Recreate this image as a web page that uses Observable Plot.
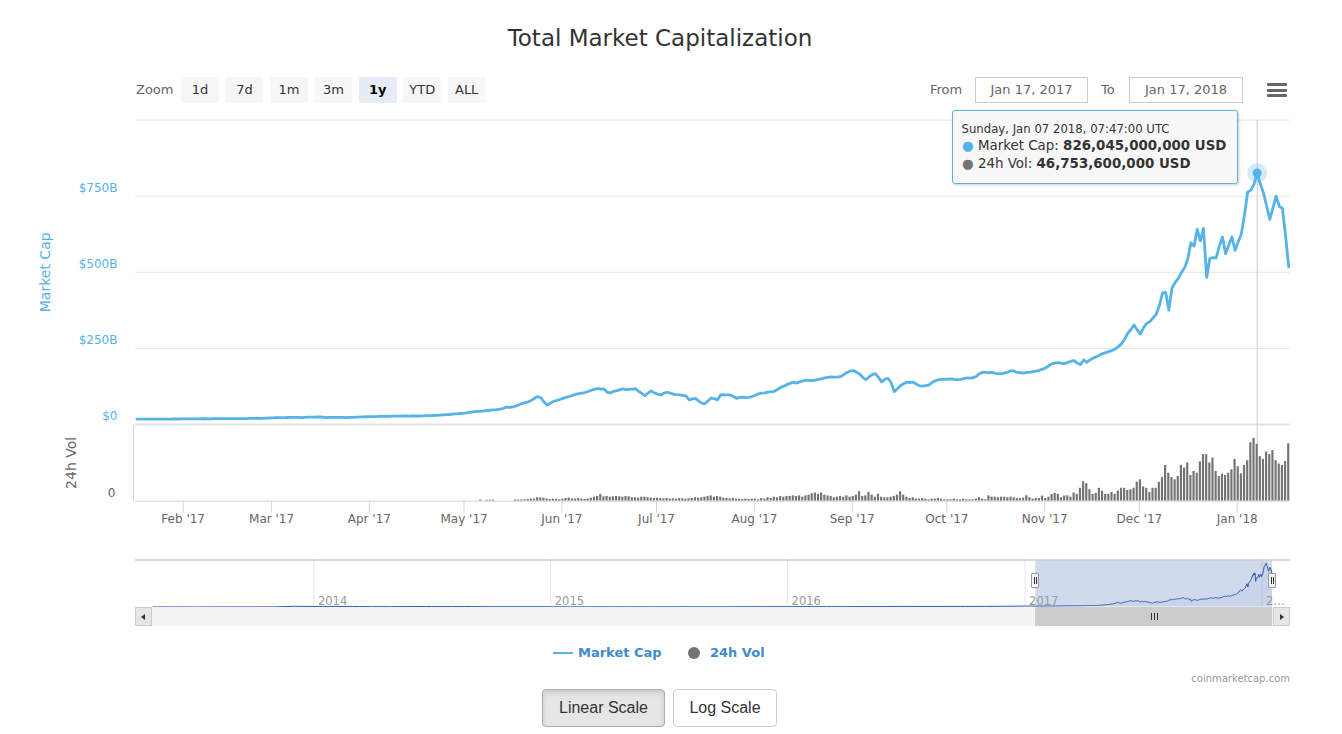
<!DOCTYPE html>
<html>
<head>
<meta charset="utf-8">
<script src="https://cdn.jsdelivr.net/npm/d3@7"></script>
<script src="https://cdn.jsdelivr.net/npm/@observablehq/plot@0.6"></script>
<style>
html,body{margin:0;padding:0;background:#fff;}
#root{position:relative;width:1342px;height:734px;overflow:hidden;font-family:"DejaVu Sans",sans-serif;color:#333;}
#root div{box-sizing:border-box;}
.a{position:absolute;white-space:nowrap;}
.rbtn{position:absolute;top:77px;width:38px;height:26px;background:#f7f7f7;border-radius:2px;font-size:13px;line-height:26px;text-align:center;color:#333;}
.inp{position:absolute;top:77px;height:26px;border:1px solid #cccccc;font-size:13px;line-height:24px;text-align:center;color:#666;background:#fff;}
</style>
</head>
<body>
<div id="root"></div>
<script>
// ---------------- DATA ($ billions) ----------------
// Daily total market cap, points at 07:47 UTC, Jan 17 2017 .. Jan 17 2018
const mcJan17 = [17.6,17.6,17.5,17.4,17.6,17.8,17.7,17.6,17.8,17.9,17.8,17.9,18.0,18.1,18.2];
const mcFeb17 = [18.3,18.5,18.6,18.4,18.5,18.7,18.9,19.2,18.6,18.9,19.1,19.2,19.0,19.0,19.1,19.3,19.4,19.2,19.3,19.4,19.6,19.8,20.2,20.6,20.4,20.5,20.9,21.3];
const mcMar17 = [21.6,22.1,22.6,22.9,22.8,23.0,23.1,23.4,23.2,22.9,23.6,23.9,24.2,24.4,24.6,24.8,24.1,22.6,23.2,23.4,23.6,23.4,23.5,22.9,23.4,23.6,23.9,24.5,25.0,25.1,25.5];
const mcApr17 = [25.7,25.9,26.1,26.4,26.8,27.2,27.0,27.3,27.6,27.5,27.8,28.0,27.7,27.9,28.1,28.0,28.3,28.6,28.9,29.3,29.6,30.1,30.8,31.6,32.2,32.8,33.8,35.0,35.4,36.8];
const mcMay17 = [37.6,38.8,40.5,42.0,42.8,43.5,44.6,46.0,47.5,48.2,49.0,50.5,52.5,57.0,56.0,57.5,60.5,64.5,69.0,72.0,74.5,79.0,86.0,92.0,88.0,74.0,64.0,70.0,76.0,78.5,82.0];
const mcJun17 = [86.0,89.0,92.0,95.5,99.0,101.5,103.0,105.0,108.5,112.5,115.5,117.5,116.0,117.0,106.0,104.0,108.5,111.0,114.0,117.0,114.5,115.5,116.5,117.5,109.0,102.0,95.0,103.5,110.0,104.0];
const mcJul17 = [100,97,103,106,103,100,98,97,96,94,81,84,86,77,70,68,78,87,85,81,97,98,97.5,97,92,86,89,90,88,89,92];
const mcAug17 = [96,101,103,104,106,107.5,109,115,122,126,131,135,139,136,140,143,146,145,144,146,148,150,153,155,156,155.5,156,157,164,171,175];
const mcSep17 = [177,172,166,155,147,156,164,167,155,140,148,152,138,108,117,128,134,139,138,139,133,127,126,128,130,138,144,147,148,148];
const mcOct17 = [149,150,148,147,148,151,153,152,154,158,167,172,171,170,171,168,167,166,170,172,177,175,171,170,169,171,172,174,175,178,182];
const mcNov17 = [186,193,200,202,203,201,200,204,208,210,201,197,212,204,212,218,222,228,233,236,240,243,248,256,265,280,300,312,327,310];
const mcDec17 = [297,318,332,338,350,362,390,432,434,376,448,466,480,499,515,543,597,586,641,603,644,483,546,548,547,585,616,561,590,616,572];
const mcJan18 = [600,627,690,764,770,790,826.045,790,761,718,674,712,750,717,710,620,518];

// Daily 24h volume, May 1 2017 .. Jan 17 2018
const volMay17 = [0,0,0,0,0,1.0,0,0.8,0.8,0.8,0,0,0,0,0,0,0.9,0.9,1.0,1.1,1.4,1.8,1.7,2.8,2.8,2.5,1.9,1.4,1.7,1.6,1.2];
const volJun17 = [1.7,2.2,2.5,1.9,1.7,2.2,1.7,1.4,1.9,2.5,3.3,3.9,5.6,3.6,3.9,3.3,3.6,3.9,3.6,3.3,3.9,3.6,2.8,2.8,2.5,3.3,3.3,2.8,2.5,2.2];
const volJul17 = [2.5,2.2,1.9,2.2,1.7,1.9,1.7,2.2,1.9,1.7,1.9,2.2,2.8,2.5,2.8,3.3,3.9,4.4,3.3,3.9,3.3,2.5,2.2,1.9,2.2,1.7,1.7,1.4,1.7,1.4,1.7];
const volAug17 = [1.7,1.1,2.2,1.7,2.8,2.2,3.3,2.8,3.9,3.3,3.9,3.9,4.4,3.9,4.4,3.3,4.4,5.0,6.1,6.7,5.6,6.7,5.0,4.4,3.9,2.8,3.3,3.9,3.3,4.4,3.3];
const volSep17 = [3.9,5.0,7.8,3.9,4.4,7.2,5.0,3.3,5.6,3.3,2.8,2.8,3.3,3.9,5.0,7.8,5.0,3.3,2.2,2.8,1.7,1.7,2.2,1.7,1.1,1.7,1.7,2.2,1.7,1.1];
const volOct17 = [1.1,1.1,1.7,1.1,1.1,1.7,1.1,1.1,1.1,1.7,2.8,1.7,1.1,4.4,3.3,3.3,2.8,3.3,3.3,2.8,3.3,2.8,2.2,2.2,2.5,4.5,2.8,1.7,2.2,2.2,4.2];
const volNov17 = [2.2,3.3,5.6,6.4,5.6,2.8,4.2,4.4,3.3,6.7,5.6,10.6,16.0,14.4,9.4,5.6,6.4,10.6,8.3,5.6,5.6,7.2,5.6,8.3,10.6,10.6,8.9,9.4,10.6,15.6];
const volDec17 = [17.5,11.7,10.6,7.2,10.6,10.6,15.6,19.4,29.4,23.0,19.4,17.5,20.3,29.4,27.2,31.4,21.1,24.4,23.0,32.2,38.3,38.3,31.4,35.5,24.4,20.3,22.2,21.1,23.0,25.8,34.4];
const volJan18 = [28.3,22.5,29.4,33.3,48.0,51.6,46.7536,36.6,34.4,40.5,38.3,41.6,33.3,30.5,29.4,32.5,47.2];

// Navigator history before the daily range: Apr 28 2013, then month starts May 2013 .. Jan 2017
const navFirstValue = 1.5;
const navEarly = [1.5,1.4,1.1,1.2,1.6,1.6,2.4,13.0,
  10.5,11.5,8.5,7.2,6.8,9.6,8.8,8.8,7.9,5.8,5.2,5.6,
  4.6,3.6,3.8,3.7,3.6,3.6,4.0,4.6,3.9,3.9,5.4,6.4,
  7.0,6.8,7.0,7.6,8.1,9.3,11.0,10.0,10.6,11.0,12.0,13.6,
  17.7];

// Axis ticks and labels
const mcTickValues = [0,250,500,750];
const mcTickLabels = ["$0","$250B","$500B","$750B"];
const mcGridValues = [0,250,500,750,1000];
const xTickLabels = ["Feb '17","Mar '17","Apr '17","May '17","Jun '17","Jul '17","Aug '17","Sep '17","Oct '17","Nov '17","Dec '17","Jan '18"];
const navYearLabels = ["2014","2015","2016","2017","2\u2026"];
const zoomButtons = ["1d","7d","1m","3m","1y","YTD","ALL"];

// ---------------- BUILD ----------------
const DAY = 864e5;
const blue = "#55b3e8";
const t0 = Date.UTC(2017,0,17,7,47);
const mcValues = [].concat(mcJan17,mcFeb17,mcMar17,mcApr17,mcMay17,mcJun17,mcJul17,mcAug17,mcSep17,mcOct17,mcNov17,mcDec17,mcJan18);
const mcData = mcValues.map((v,i)=>({date:new Date(t0+i*DAY), mc:v}));
const v0 = Date.UTC(2017,4,1,7,47);
const volValues = [].concat(volMay17,volJun17,volJul17,volAug17,volSep17,volOct17,volNov17,volDec17,volJan18);
const volData = volValues.map((v,i)=>({date:new Date(v0+i*DAY), vol:v}));
const hoverDate = new Date(Date.UTC(2018,0,7,7,47));
const hoverMc = mcData.find(d=>+d.date===+hoverDate);
const hoverVol = volData.find(d=>+d.date===+hoverDate);

const xDomain = [new Date(Date.UTC(2017,0,16,21,20)), new Date(Date.UTC(2018,0,17,21,20))];
const xTickDates = d3.utcMonth.range(new Date(Date.UTC(2017,1,1)), new Date(Date.UTC(2018,0,2)));

const navEarlyDates = d3.utcMonth.range(new Date(Date.UTC(2013,4,1)), new Date(Date.UTC(2017,0,2)));
const navData = [{date:new Date(Date.UTC(2013,3,28)), mc:navFirstValue}]
  .concat(navEarly.map((v,i)=>({date:navEarlyDates[i], mc:v})))
  .concat(mcData);
const navYearDates = d3.utcYear.range(new Date(Date.UTC(2014,0,1)), new Date(Date.UTC(2018,0,2)));
const selStart = mcData[0].date, selEnd = mcData[mcData.length-1].date;

const root = document.getElementById("root");
function el(style, text, parent){
  const d = document.createElement("div");
  d.className = "a";
  d.style.cssText = style;
  if (text != null) d.textContent = text;
  (parent||root).appendChild(d);
  return d;
}
function place(svg, top){
  const w = el(`left:0;top:${top}px;width:1342px;`);
  w.appendChild(svg);
  return w;
}

// Main pane
const main = Plot.plot({
  width:1342, height:330, marginLeft:135, marginRight:52, marginTop:19.6, marginBottom:6,
  style:{fontFamily:"DejaVu Sans", fontSize:"12px", background:"transparent", overflow:"visible"},
  x:{type:"utc", domain:xDomain, axis:null},
  y:{domain:[0,1000]},
  marks:[
    Plot.gridY(mcGridValues, {stroke:"#e6e6e6", strokeOpacity:1}),
    Plot.ruleY([0], {stroke:"#e3e3e3", strokeWidth:2}),
    Plot.axisY(mcTickValues, {tickSize:0, tickPadding:18, dy:-8, fill:blue, fontSize:12,
      tickFormat:d=>mcTickLabels[mcTickValues.indexOf(d)], label:null}),
    Plot.text(["Market Cap"], {frameAnchor:"left", textAnchor:"middle", rotate:-90, dx:-90, fill:blue, fontSize:14}),
    Plot.ruleX([hoverDate], {stroke:"#cccccc"}),
    Plot.line(mcData, {x:"date", y:"mc", stroke:blue, strokeWidth:2.8}),
    Plot.dot([hoverMc], {x:"date", y:"mc", r:10, fill:blue, fillOpacity:0.25}),
    Plot.dot([hoverMc], {x:"date", y:"mc", r:4.5, fill:blue})
  ]
});
place(main, 100);

// Volume pane
const vol = Plot.plot({
  width:1342, height:120, marginLeft:135, marginRight:52, marginTop:10, marginBottom:33.3,
  style:{fontFamily:"DejaVu Sans", fontSize:"12px", background:"transparent", overflow:"visible"},
  x:{type:"utc", domain:xDomain},
  y:{domain:[0,63]},
  marks:[
    Plot.ruleX([hoverDate], {stroke:"#cccccc"}),
    Plot.rectY(volData, {x1:d=>new Date(+d.date-DAY/2), x2:d=>new Date(+d.date+DAY/2), y:"vol", fill:"#737373", insetLeft:0.5, insetRight:0.5}),
    Plot.ruleY([0], {stroke:"#ccd6eb", dx:-1}),
    Plot.ruleX([xDomain[0]], {stroke:"#ccd6eb", dx:-2}),
    Plot.axisX(xTickDates, {tickSize:12, tickPadding:1, stroke:"#ccd6eb", fill:"#666", fontSize:12, label:null,
      tickFormat:d=>xTickLabels[xTickDates.findIndex(t=>+t===+d)]}),
    Plot.axisY([0], {tickSize:0, tickPadding:20, dy:-8, fill:"#666", fontSize:12, label:null}),
    Plot.text(["24h Vol"], {frameAnchor:"left", textAnchor:"middle", rotate:-90, dx:-63.5, fill:"#666", fontSize:14})
  ]
});
place(vol, 414);

// Navigator
const nav = Plot.plot({
  width:1342, height:80, marginLeft:135, marginRight:52, marginTop:9.5, marginBottom:23.5,
  style:{fontFamily:"DejaVu Sans", fontSize:"11px", background:"transparent", overflow:"visible"},
  x:{type:"utc", domain:[new Date(Date.UTC(2013,3,1)), new Date(Date.UTC(2018,1,14))], axis:null},
  y:{domain:[0,886], axis:null},
  marks:[
    Plot.ruleX(navYearDates, {stroke:"#e6e6e6"}),
    Plot.rect([0], {x1:()=>selStart, x2:()=>selEnd, y1:()=>0, y2:()=>886, fill:"rgb(102,133,194)", fillOpacity:0.3}),
    Plot.areaY(navData, {x:"date", y:"mc", fill:"#335cad", fillOpacity:0.05}),
    Plot.line(navData, {x:"date", y:"mc", stroke:"#335cad", strokeWidth:1}),
    Plot.ruleY([886], {stroke:"#cccccc", strokeWidth:1.5}),
    Plot.text(navYearDates, {x:d=>d, text:(d,i)=>navYearLabels[i], frameAnchor:"bottom", lineAnchor:"bottom",
      textAnchor:"start", dx:4, dy:-2, fill:"#999", fontSize:11.5})
  ]
});
place(nav, 550);

// ---------------- HTML chrome ----------------
el("left:0;top:24px;width:1320px;text-align:center;font-size:23px;line-height:28px;color:#333;", "Total Market Capitalization");

el("left:136px;top:77px;height:26px;font-size:13px;line-height:26px;color:#666;", "Zoom");
zoomButtons.forEach((b,i)=>{
  const d = el("", b);
  d.className = "rbtn";
  d.style.left = (181 + 44.45*i) + "px";
  if (b === "1y") { d.style.background = "#e6ebf5"; d.style.fontWeight = "bold"; d.style.color = "#000"; }
});
const fmtIn = d3.utcFormat("%b %d, %Y");
el("left:930px;top:77px;height:26px;font-size:13px;line-height:26px;color:#666;", "From");
const in1 = el("", fmtIn(selStart)); in1.className = "inp"; in1.style.left = "975px"; in1.style.width = "113px";
el("left:1101px;top:77px;height:26px;font-size:13px;line-height:26px;color:#666;", "To");
const in2 = el("", fmtIn(selEnd)); in2.className = "inp"; in2.style.left = "1129px"; in2.style.width = "114px";
[84,89.5,95].forEach(y=>el(`left:1267px;top:${y-1}px;width:20px;height:3px;background:#666;border-radius:1px;`));

// Tooltip
const fmtTip = d3.utcFormat("%A, %b %d %Y, %H:%M:%S UTC");
const fmtNum = d3.format(",");
const tip = el(`left:952px;top:110px;width:286px;height:74px;background:rgba(247,247,247,0.9);border:1px solid ${blue};border-radius:3px;box-shadow:1px 1px 3px rgba(0,0,0,0.2);`);
el("left:8.5px;top:10.5px;font-size:11.7px;line-height:14px;color:#333;", fmtTip(hoverDate), tip);
const l2 = el("left:9px;top:27px;font-size:13.4px;line-height:16px;color:#333;", null, tip);
l2.innerHTML = `<span style="color:${blue}">\u25CF</span> Market Cap: <b>${fmtNum(Math.round(hoverMc.mc*1e9))} USD</b>`;
const l3 = el("left:9px;top:45px;font-size:13.4px;line-height:16px;color:#333;", null, tip);
l3.innerHTML = `<span style="color:#737373">\u25CF</span> 24h Vol: <b>${fmtNum(Math.round(hoverVol.vol*1e9))} USD</b>`;

// Navigator handles & scrollbar
const nx = nav.scale("x");
const hx1 = nx.apply(selStart), hx2 = nx.apply(selEnd);
[hx1,hx2].forEach(x=>{
  const h = el(`left:${x-4}px;top:573px;width:8px;height:15px;background:#f2f2f2;border:1px solid #999;border-radius:1px;`);
  el("left:1.5px;top:3px;width:1px;height:7px;background:#333;", null, h);
  el("left:3.5px;top:3px;width:1px;height:7px;background:#333;", null, h);
});
el("left:135px;top:607px;width:1155px;height:19px;background:#f2f2f2;");
const thumb = el(`left:${hx1}px;top:607px;width:${hx2-hx1}px;height:19px;background:#cccccc;`);
[-3,0,3].forEach(o=>el(`left:${(hx2-hx1)/2+o}px;top:6px;width:1px;height:7px;background:#333;`, null, thumb));
const lb = el("left:135px;top:607px;width:17px;height:19px;background:#e6e6e6;border:1px solid #cccccc;");
el("left:5px;top:5.5px;width:0;height:0;border-top:3.5px solid transparent;border-bottom:3.5px solid transparent;border-right:4px solid #333;", null, lb);
const rb = el("left:1273px;top:607px;width:17px;height:19px;background:#e6e6e6;border:1px solid #cccccc;");
el("left:6px;top:5.5px;width:0;height:0;border-top:3.5px solid transparent;border-bottom:3.5px solid transparent;border-left:4px solid #333;", null, rb);

// Legend
el(`left:553px;top:652px;width:20px;height:2px;background:${blue};`);
el("left:578px;top:645px;font-size:13px;line-height:16px;font-weight:bold;color:#428bca;", "Market Cap");
el("left:688px;top:647px;width:12px;height:12px;border-radius:50%;background:#737373;");
el("left:710px;top:645px;font-size:13px;line-height:16px;font-weight:bold;color:#428bca;", "24h Vol");

// Credits
el("left:1090px;top:672px;width:200px;text-align:right;font-size:10px;line-height:14px;color:#999;", "coinmarketcap.com");

// Scale buttons
el("left:542px;top:689px;width:123px;height:38px;background:#e6e6e6;border:1px solid #adadad;border-radius:4px;box-shadow:inset 0 3px 5px rgba(0,0,0,0.125);font-family:'Liberation Sans',Arial,sans-serif;font-size:16px;line-height:36px;text-align:center;color:#333;", "Linear Scale");
el("left:673px;top:689px;width:104px;height:38px;background:#fff;border:1px solid #cccccc;border-radius:4px;font-family:'Liberation Sans',Arial,sans-serif;font-size:16px;line-height:36px;text-align:center;color:#333;", "Log Scale");
</script>
</body>
</html>
